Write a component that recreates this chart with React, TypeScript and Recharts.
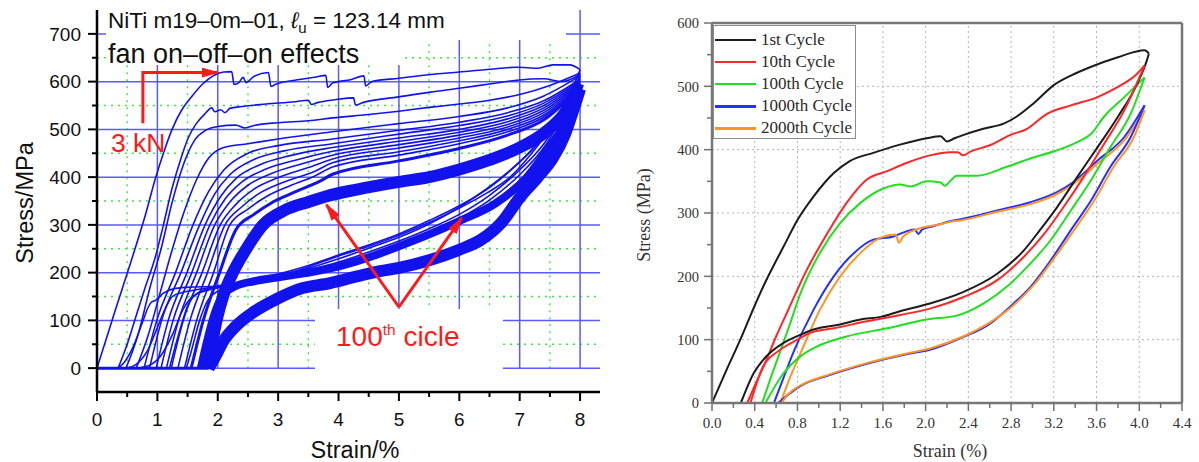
import React from 'react';
import { LineChart, Line, XAxis, YAxis, ReferenceLine } from 'recharts';

type Pair = [number, number];
const pts = (a: Pair[]) => a.map(([x, y]) => ({ x, y }));

const SANS = '"Liberation Sans", Arial, Helvetica, sans-serif';
const SERIF = '"Liberation Serif", "Times New Roman", Times, serif';

// ---------- left chart (NiTi, many cycles) ----------
const leftXMajor = [0, 1, 2, 3, 4, 5, 6, 7, 8];
const leftXMinor = [0.5, 1.5, 2.5, 3.5, 4.5, 5.5, 6.5, 7.5];
const leftYMajor = [0, 100, 200, 300, 400, 500, 600, 700];
const leftYMinor = [50, 150, 250, 350, 450, 550, 650];

const leftBaseline: Pair[] = [[0, 0], [1.85, 0]];

const leftLoad1: Pair[] = [
  [0, 0], [0.15, 60], [0.3, 120], [0.57, 226], [0.8, 320], [0.96, 394], [1.1, 450], [1.24, 499],
  [1.4, 540], [1.57, 569], [1.75, 595], [1.95, 614], [2.1, 620], [2.23, 621], [2.27, 594], [2.35, 598],
  [2.42, 609], [2.47, 598], [2.6, 611], [2.84, 619], [2.88, 590], [2.95, 594], [3.28, 603], [3.6, 609],
  [3.79, 613], [3.82, 588], [3.9, 597], [4.2, 604], [4.42, 612], [4.45, 591], [4.55, 600], [5.0, 607],
  [5.52, 615], [6.0, 620], [6.51, 626], [6.95, 630], [7.3, 628], [7.55, 635], [7.83, 635], [8.0, 625],
];
const leftLoad2: Pair[] = [
  [0.35, 0], [0.5, 50], [0.65, 110], [0.8, 170], [0.96, 230], [1.1, 300], [1.24, 375], [1.38, 435],
  [1.51, 482], [1.65, 513], [1.79, 533], [1.9, 545], [1.95, 537], [2.05, 541], [2.12, 535], [2.2, 544],
  [2.4, 548], [2.8, 553], [3.28, 558], [3.5, 561], [3.55, 552], [3.65, 556], [3.94, 562], [4.25, 566],
  [4.28, 551], [4.4, 556], [5.0, 568], [5.52, 578], [6.0, 586], [6.5, 595], [6.95, 603], [7.4, 606],
  [7.7, 600], [8.0, 615],
];
const leftLoad3: Pair[] = [
  [0.48, 0], [0.68, 70], [0.88, 170], [1.07, 254], [1.24, 345], [1.4, 415], [1.62, 478], [1.8, 498],
  [2.0, 506], [2.3, 509], [2.45, 503], [2.6, 508], [3.0, 514], [3.5, 518], [3.9, 524], [4.5, 531],
  [5.0, 538], [5.5, 546], [6.0, 553], [6.5, 561], [7.0, 573], [7.5, 592], [8.0, 618],
];
const leftLoad4: Pair[] = [
  [0.65, 0], [0.85, 70], [1.05, 160], [1.25, 250], [1.45, 330], [1.65, 395], [1.85, 440], [2.1, 462],
  [2.5, 470], [3.0, 480], [3.9, 495], [5.0, 512], [6.0, 527], [6.8, 545], [7.4, 570], [8.0, 612],
];
const leftLoadD1: Pair[] = [[0.78, 0], [0.99, 100], [1.3, 200], [1.59, 300], [1.85, 370], [2.1, 415], [2.5, 450], [3.0, 466], [3.9, 480], [5.0, 498], [6.0, 515], [6.8, 535], [7.4, 560], [8.0, 605]];
const leftLoadD2: Pair[] = [[0.87, 0], [1.07, 100], [1.39, 200], [1.7, 300], [1.95, 365], [2.2, 405], [2.6, 437], [3.1, 455], [3.9, 470], [5.0, 490], [6.0, 508], [6.8, 528], [7.4, 555], [8.0, 602]];
const leftLoadD3: Pair[] = [[0.98, 0], [1.18, 100], [1.49, 200], [1.79, 300], [2.05, 360], [2.3, 397], [2.7, 426], [3.2, 445], [3.9, 462], [5.0, 482], [6.0, 500], [6.8, 522], [7.4, 550], [8.0, 600]];
const leftLoadD4: Pair[] = [[1.06, 0], [1.26, 100], [1.57, 200], [1.87, 300], [2.12, 354], [2.4, 390], [2.8, 417], [3.3, 436], [3.9, 454], [5.0, 475], [6.0, 494], [6.8, 516], [7.4, 545], [8.0, 598]];
const leftLoadD5: Pair[] = [[1.15, 0], [1.35, 100], [1.65, 200], [1.95, 300], [2.2, 348], [2.5, 383], [2.9, 408], [3.4, 428], [3.9, 446], [5.0, 468], [6.0, 488], [6.8, 510], [7.4, 540], [8.0, 596]];
const leftLoadD6: Pair[] = [[1.23, 0], [1.43, 100], [1.74, 200], [2.04, 300], [2.3, 343], [2.6, 375], [3.0, 399], [3.5, 420], [3.9, 438], [5.0, 461], [6.0, 482], [6.8, 505], [7.4, 535], [8.0, 594]];
const leftLoadD7: Pair[] = [[1.34, 0], [1.54, 100], [1.83, 200], [2.12, 300], [2.4, 338], [2.7, 367], [3.1, 390], [3.6, 412], [3.9, 430], [5.0, 453], [6.0, 476], [6.8, 500], [7.4, 530], [8.0, 592]];
const leftLoadD8: Pair[] = [[1.45, 0], [1.65, 100], [1.93, 200], [2.2, 300], [2.5, 333], [2.8, 359], [3.2, 382], [3.6, 402], [3.9, 421], [5.0, 446], [6.0, 470], [6.8, 495], [7.4, 526], [8.0, 590]];
const leftLoadNear: Pair[] = [[1.56, 0], [1.76, 100], [2.03, 200], [2.3, 290], [2.6, 322], [2.9, 347], [3.3, 370], [3.7, 392], [3.9, 406], [5.0, 434], [6.0, 460], [6.8, 488], [7.4, 520], [8.0, 588]];
const leftLoad100: Pair[] = [
  [1.8, 0], [1.9, 50], [1.98, 100], [2.1, 155], [2.25, 200], [2.45, 245], [2.75, 300], [3.1, 330],
  [3.5, 348], [3.8, 360], [4.3, 374], [5.0, 390], [5.5, 400], [6.0, 416], [6.5, 436], [7.0, 462],
  [7.4, 492], [7.7, 527], [8.0, 585],
];

const leftUnload1: Pair[] = [
  [8.0, 625], [7.85, 580], [7.7, 540], [7.5, 500], [7.2, 450], [6.84, 400], [6.5, 370], [6.0, 335],
  [5.5, 305], [5.0, 278], [4.5, 255], [4.0, 235], [3.5, 212], [3.1, 196], [2.6, 182], [2.26, 174],
  [1.9, 171], [1.6, 170], [1.3, 167], [1.1, 157], [0.97, 142], [0.9, 138], [0.85, 128], [0.75, 95],
  [0.6, 45], [0.45, 12], [0.35, 0],
];
const leftUnload2: Pair[] = [
  [8.0, 615], [7.8, 562], [7.6, 522], [7.3, 472], [7.0, 432], [6.5, 378], [6.0, 340], [5.5, 309],
  [5.0, 281], [4.5, 258], [4.0, 237], [3.5, 215], [3.0, 197], [2.5, 182], [2.2, 176], [1.9, 170],
  [1.6, 163], [1.4, 158], [1.25, 150], [1.15, 130], [1.0, 85], [0.85, 40], [0.65, 8], [0.5, 0],
];
const leftUnload3: Pair[] = [
  [8.0, 610], [7.8, 555], [7.5, 500], [7.2, 456], [6.8, 410], [6.3, 362], [6.0, 337], [5.5, 302],
  [5.0, 274], [4.5, 251], [4.0, 229], [3.5, 209], [3.0, 193], [2.5, 179], [2.2, 173], [1.9, 165],
  [1.7, 158], [1.55, 146], [1.42, 122], [1.25, 70], [1.05, 25], [0.85, 5], [0.65, 0],
];
const leftUnload4: Pair[] = [
  [8.0, 605], [7.7, 530], [7.4, 470], [7.0, 415], [6.5, 362], [6.0, 322], [5.5, 292], [5.0, 266],
  [4.5, 243], [4.0, 222], [3.5, 205], [3.0, 190], [2.5, 178], [2.0, 170], [1.7, 160], [1.5, 130],
  [1.35, 70], [1.2, 0],
];
const leftUnload5: Pair[] = [
  [8.0, 600], [7.7, 525], [7.4, 462], [7.0, 405], [6.5, 352], [6.0, 314], [5.5, 285], [5.0, 259],
  [4.5, 237], [4.0, 217], [3.5, 201], [3.0, 186], [2.5, 174], [2.1, 166], [1.85, 145], [1.7, 100],
  [1.55, 30], [1.48, 0],
];
const leftUnloadMid: Pair[] = [
  [8.0, 595], [7.8, 525], [7.5, 465], [7.12, 400], [6.6, 345], [6.0, 308], [5.5, 280], [5.0, 255],
  [4.5, 232], [3.9, 210], [3.4, 198], [3.0, 190], [2.6, 182], [2.3, 172], [2.1, 155], [1.95, 115],
  [1.82, 55], [1.72, 0],
];
const leftUnloadLow: Pair[] = [
  [8.0, 585], [7.9, 545], [7.75, 490], [7.55, 440], [7.3, 400], [7.0, 357], [6.7, 305], [6.35, 268],
  [6.0, 248], [5.5, 226], [5.0, 210], [4.69, 203], [4.4, 195], [3.86, 178], [3.36, 166], [2.98, 145],
  [2.6, 118], [2.3, 88], [2.1, 58], [1.95, 22], [1.85, 0],
];

const leftThinLoads = [leftLoad1, leftLoad2, leftLoad3, leftLoad4, leftLoadD1, leftLoadD2, leftLoadD3, leftLoadD4, leftLoadD5, leftLoadD6, leftLoadD7, leftLoadD8];
const leftThinUnloads = [leftUnload1, leftUnload2, leftUnload3, leftUnload4, leftUnload5];

// annotation arrows (strain, stress)
const arrow3kN: Pair[] = [[0.76, 516], [0.76, 619], [2.0, 619]];
const arrow100Origin: Pair = [5.0, 128];
const arrow100Tips: Pair[] = [[3.8, 342], [6.04, 314]];

// ---------- right chart (5 cycles) ----------
const rightXMajor = [0, 0.4, 0.8, 1.2, 1.6, 2.0, 2.4, 2.8, 3.2, 3.6, 4.0, 4.4];
const rightXMinor = [0.2, 0.6, 1.0, 1.4, 1.8, 2.2, 2.6, 3.0, 3.4, 3.8, 4.2];
const rightYMajor = [0, 100, 200, 300, 400, 500, 600];
const rightYMinor = [50, 150, 250, 350, 450, 550];

const rc1Load: Pair[] = [
  [0, 0], [0.13, 50], [0.265, 100], [0.37, 142], [0.48, 184], [0.58, 218], [0.67, 247], [0.8, 289],
  [0.95, 326], [1.05, 347], [1.14, 363], [1.29, 382], [1.51, 395], [1.76, 408], [2.01, 418], [2.14, 421],
  [2.2, 413], [2.27, 418], [2.35, 423], [2.54, 433], [2.73, 441], [2.85, 452], [3.01, 473], [3.2, 502],
  [3.36, 517], [3.55, 531], [3.8, 546], [4.05, 557], [4.09, 552],
];
const rc1Unload: Pair[] = [
  [4.09, 552], [4.08, 546], [3.98, 504], [3.8, 452], [3.61, 404], [3.42, 357], [3.23, 309], [3.07, 273],
  [2.92, 241], [2.67, 204], [2.35, 175], [2.04, 157], [1.76, 145], [1.58, 136], [1.39, 132], [1.2, 124],
  [0.95, 116], [0.83, 108], [0.67, 95], [0.51, 74], [0.39, 47], [0.27, 0],
];
const rc10Load: Pair[] = [
  [0.33, 0], [0.42, 35], [0.51, 68], [0.6, 105], [0.7, 142], [0.89, 211], [1.08, 268], [1.26, 316],
  [1.45, 353], [1.64, 366], [1.82, 379], [2.04, 391], [2.23, 396], [2.3, 396], [2.35, 391], [2.42, 397],
  [2.6, 407], [2.79, 423], [2.95, 433], [3.14, 457], [3.36, 470], [3.61, 483], [3.8, 499], [3.98, 520],
  [4.05, 533],
];
const rc10Unload: Pair[] = [
  [4.05, 533], [3.86, 462], [3.67, 409], [3.48, 357], [3.29, 309], [3.11, 267], [2.92, 231], [2.67, 194],
  [2.35, 167], [2.04, 149], [1.76, 139], [1.45, 129], [1.14, 118], [0.92, 111], [0.8, 100], [0.64, 84],
  [0.48, 58], [0.36, 0],
];
const rc100Load: Pair[] = [
  [0.47, 0], [0.54, 35], [0.61, 68], [0.72, 120], [0.83, 174], [1.01, 237], [1.2, 284], [1.39, 316],
  [1.61, 339], [1.76, 345], [1.86, 342], [2.01, 350], [2.14, 348], [2.18, 343], [2.24, 352], [2.29, 359],
  [2.48, 359], [2.76, 373], [2.98, 386], [3.23, 399], [3.42, 412], [3.55, 425], [3.67, 452], [3.86, 483],
  [4.05, 514],
];
const rc100Unload: Pair[] = [
  [4.05, 514], [3.92, 457], [3.73, 404], [3.55, 352], [3.36, 304], [3.17, 257], [2.98, 220], [2.79, 188],
  [2.54, 157], [2.29, 138], [2.01, 132], [1.64, 118], [1.26, 105], [0.98, 89], [0.83, 74], [0.67, 47],
  [0.5, 0],
];
const rc1000Load: Pair[] = [
  [0.58, 0], [0.67, 40], [0.76, 79], [0.95, 147], [1.14, 200], [1.33, 237], [1.51, 258], [1.7, 263],
  [1.82, 271], [1.9, 274], [1.93, 267], [1.97, 274], [2.07, 279], [2.23, 287], [2.35, 291], [2.67, 304],
  [2.98, 317], [3.23, 333], [3.36, 346], [3.61, 383], [3.86, 420], [4.05, 470],
];
const rc1000Unload: Pair[] = [
  [4.05, 470], [3.92, 420], [3.73, 373], [3.55, 320], [3.36, 273], [3.17, 225], [2.98, 183], [2.79, 152],
  [2.6, 125], [2.35, 104], [2.04, 84], [1.82, 77], [1.45, 62], [1.08, 43], [0.83, 27], [0.72, 14],
  [0.62, 0],
];
const rc2000Load: Pair[] = [
  [0.64, 0], [0.73, 40], [0.83, 79], [1.01, 147], [1.2, 200], [1.39, 237], [1.58, 261], [1.72, 266],
  [1.75, 253], [1.79, 263], [1.95, 276], [2.1, 281], [2.23, 286], [2.35, 289], [2.67, 302], [2.98, 314],
  [3.23, 330], [3.36, 343], [3.61, 378], [3.86, 415], [4.05, 462],
];
const rc2000Unload: Pair[] = [
  [4.05, 462], [3.95, 420], [3.76, 373], [3.58, 320], [3.39, 273], [3.2, 228], [3.01, 186], [2.82, 154],
  [2.6, 127], [2.35, 105], [2.04, 86], [1.82, 78], [1.45, 63], [1.08, 44], [0.83, 28], [0.72, 15],
  [0.65, 0],
];

const rightCycles = [
  { name: '1st Cycle', color: '#1c1c1c', load: rc1Load, unload: rc1Unload },
  { name: '10th Cycle', color: '#ff2626', load: rc10Load, unload: rc10Unload },
  { name: '100th Cycle', color: '#1fe01f', load: rc100Load, unload: rc100Unload },
  { name: '1000th Cycle', color: '#2430ff', load: rc1000Load, unload: rc1000Unload },
  { name: '2000th Cycle', color: '#ff9424', load: rc2000Load, unload: rc2000Unload },
];

const BLUE = '#1212ee';
const RED = '#ff1a1a';

function LeftXTick(props: any) {
  const { x, y, payload } = props;
  const v = payload.value;
  const major = leftXMajor.includes(v);
  return (
    <g>
      <line x1={x} x2={x} y1={y} y2={y + (major ? 9 : 5)} stroke="#000" strokeWidth={2} />
      {major && (
        <text x={x} y={y + 27} dy="0.36em" textAnchor="middle" fontSize={19} fontFamily={SANS} fill="#111">
          {v}
        </text>
      )}
    </g>
  );
}

function LeftYTick(props: any) {
  const { x, y, payload } = props;
  const v = payload.value;
  const major = leftYMajor.includes(v);
  return (
    <g>
      <line x1={x} x2={x - (major ? 9 : 5)} y1={y} y2={y} stroke="#000" strokeWidth={2} />
      {major && (
        <text x={x - 16} y={y} dy="0.36em" textAnchor="end" fontSize={19} fontFamily={SANS} fill="#111">
          {v}
        </text>
      )}
    </g>
  );
}

function RightXTick(props: any) {
  const { x, y, payload } = props;
  const v = payload.value;
  const major = rightXMajor.includes(v);
  return (
    <g>
      <line x1={x} x2={x} y1={y} y2={y + (major ? 8 : 5)} stroke="#707070" strokeWidth={1.5} />
      {major && (
        <text x={x} y={y + 20} dy="0.36em" textAnchor="middle" fontSize={15} fontFamily={SERIF} fill="#333">
          {v.toFixed(1)}
        </text>
      )}
    </g>
  );
}

function RightYTick(props: any) {
  const { x, y, payload } = props;
  const v = payload.value;
  const major = rightYMajor.includes(v);
  return (
    <g>
      <line x1={x} x2={x - (major ? 8 : 5)} y1={y} y2={y} stroke="#707070" strokeWidth={1.5} />
      {major && (
        <text x={x - 13} y={y} dy="0.36em" textAnchor="end" fontSize={14.5} fontFamily={SERIF} fill="#333">
          {v}
        </text>
      )}
    </g>
  );
}

const abs = (s: React.CSSProperties): React.CSSProperties => ({ position: 'absolute', whiteSpace: 'nowrap', ...s });
const GRID_Z = -50;

export default function App() {
  const leftXTicks = [...leftXMajor, ...leftXMinor].sort((a, b) => a - b);
  const leftYTicks = [...leftYMajor, ...leftYMinor].sort((a, b) => a - b);
  const rightXTicks = [...rightXMajor, ...rightXMinor].sort((a, b) => a - b);
  const rightYTicks = [...rightYMajor, ...rightYMinor].sort((a, b) => a - b);

  return (
    <div style={{ position: 'absolute', left: 0, top: 0, width: 1199, height: 462, background: '#fff', overflow: 'hidden' }}>
      {/* ---------------- left chart ---------------- */}
      <div style={{ position: 'absolute', left: 0, top: 0 }}>
        <LineChart width={600} height={462} margin={{ top: 10, right: 0, bottom: 0, left: 0 }}>
          <defs>
            <marker id="redHead" viewBox="0 0 18 10" refX="16" refY="5" markerWidth="18" markerHeight="10" markerUnits="userSpaceOnUse" orient="auto">
              <path d="M0,0 L18,5 L0,10 z" fill={RED} />
            </marker>
          </defs>
          <XAxis
            type="number"
            dataKey="x"
            domain={[0, 8.33]}
            ticks={leftXTicks}
            interval={0}
            allowDataOverflow
            height={70}
            tickLine={false}
            tickSize={0}
            tickMargin={0}
            tick={<LeftXTick />}
            axisLine={{ stroke: '#000', strokeWidth: 2.5 }}
          />
          <YAxis
            type="number"
            dataKey="y"
            domain={[-50, 750]}
            ticks={leftYTicks}
            interval={0}
            allowDataOverflow
            width={97}
            tickLine={false}
            tickSize={0}
            tickMargin={0}
            tick={<LeftYTick />}
            axisLine={{ stroke: '#000', strokeWidth: 2.5 }}
          />
          {leftYMinor.map((v) => (
            <ReferenceLine key={`gy${v}`} zIndex={GRID_Z} y={v} stroke="#3ee83e" strokeWidth={1.4} strokeDasharray="2 5" />
          ))}
          {leftXMinor.map((v) => (
            <ReferenceLine key={`gx${v}`} zIndex={GRID_Z} segment={[{ x: v, y: 0 }, { x: v, y: 750 }]} stroke="#3ee83e" strokeWidth={1.4} strokeDasharray="2 5" />
          ))}
          {leftYMajor.map((v) => (
            <ReferenceLine key={`by${v}`} zIndex={GRID_Z} y={v} stroke="#5a5aff" strokeWidth={1.5} />
          ))}
          {leftXMajor.filter((v) => v > 0).map((v) => (
            <ReferenceLine key={`bx${v}`} zIndex={GRID_Z} segment={[{ x: v, y: 0 }, { x: v, y: 750 }]} stroke="#5a5aff" strokeWidth={1.5} />
          ))}

          <Line data={pts(leftBaseline)} dataKey="y" type="linear" stroke={BLUE} strokeWidth={3} dot={false} isAnimationActive={false} />
          {leftThinLoads.map((d, i) => (
            <Line key={`ll${i}`} data={pts(d)} dataKey="y" type="monotoneX" stroke={BLUE} strokeWidth={1.6} dot={false} isAnimationActive={false} />
          ))}
          <Line data={pts(leftLoadNear)} dataKey="y" type="monotoneX" stroke={BLUE} strokeWidth={3} dot={false} isAnimationActive={false} />
          <Line data={pts(leftLoad100)} dataKey="y" type="monotoneX" stroke={BLUE} strokeWidth={12} dot={false} isAnimationActive={false} />
          {leftThinUnloads.map((d, i) => (
            <Line key={`lu${i}`} data={pts(d)} dataKey="y" type="monotoneX" stroke={BLUE} strokeWidth={1.6} dot={false} isAnimationActive={false} />
          ))}
          <Line data={pts(leftUnloadMid)} dataKey="y" type="monotoneX" stroke={BLUE} strokeWidth={8} dot={false} isAnimationActive={false} />
          <Line data={pts(leftUnloadLow)} dataKey="y" type="monotoneX" stroke={BLUE} strokeWidth={12} dot={false} isAnimationActive={false} />

          <ReferenceLine
            segment={[{ x: arrow3kN[0][0], y: arrow3kN[0][1] }, { x: arrow3kN[1][0], y: arrow3kN[1][1] }]}
            stroke={RED}
            strokeWidth={3}
            strokeLinecap="square"
          />
          <ReferenceLine
            segment={[{ x: arrow3kN[1][0], y: arrow3kN[1][1] }, { x: arrow3kN[2][0], y: arrow3kN[2][1] }]}
            stroke={RED}
            strokeWidth={3}
            markerEnd="url(#redHead)"
          />
          {arrow100Tips.map((t, i) => (
            <ReferenceLine
              key={`a${i}`}
              segment={[{ x: arrow100Origin[0], y: arrow100Origin[1] }, { x: t[0], y: t[1] }]}
              stroke={RED}
              strokeWidth={3}
              markerEnd="url(#redHead)"
            />
          ))}
        </LineChart>
      </div>

      {/* left annotations */}
      <div style={abs({ left: 106, top: 0, width: 460, height: 40, background: '#fff' })} />
      <div style={abs({ left: 106, top: 40, width: 296, height: 25, background: '#fff' })} />
      <div style={abs({ left: 108, top: 10, fontFamily: SANS, fontSize: 22.5, lineHeight: '22.5px', color: '#111' })}>
        NiTi m19–0m–01, <i>ℓ</i>
        <span style={{ fontSize: 15, position: 'relative', top: 5 }}>u</span> = 123.14 mm
      </div>
      <div style={abs({ left: 108, top: 41, fontFamily: SANS, fontSize: 27, lineHeight: '27px', color: '#111' })}>
        fan on–off–on effects
      </div>
      <div style={abs({ left: 111, top: 130, fontFamily: SANS, fontSize: 26.5, lineHeight: '26.5px', color: RED })}>3 kN</div>
      <div style={abs({ left: 315, top: 309, width: 188, height: 62, background: '#fff' })} />
      <div style={abs({ left: 336, top: 323, fontFamily: SANS, fontSize: 28, lineHeight: '28px', color: RED })}>
        100<span style={{ fontSize: 15.5, position: 'relative', top: -11 }}>th</span> cicle
      </div>
      <div style={abs({ left: 25, top: 203, transform: 'translate(-50%, -50%) rotate(-90deg)', fontFamily: SANS, fontSize: 23.5, color: '#111' })}>
        Stress/MPa
      </div>
      <div style={abs({ left: 355, top: 450, transform: 'translate(-50%, -50%)', fontFamily: SANS, fontSize: 23.5, color: '#111' })}>
        Strain/%
      </div>

      {/* ---------------- right chart ---------------- */}
      <div style={{ position: 'absolute', left: 620, top: 0 }}>
        <LineChart width={579} height={462} margin={{ top: 23, right: 17, bottom: 0, left: 0 }}>
          <XAxis
            type="number"
            dataKey="x"
            domain={[0, 4.4]}
            ticks={rightXTicks}
            interval={0}
            allowDataOverflow
            height={59}
            tickLine={false}
            tickSize={0}
            tickMargin={0}
            tick={<RightXTick />}
            axisLine={{ stroke: '#777', strokeWidth: 2.5 }}
          />
          <YAxis
            type="number"
            dataKey="y"
            domain={[0, 600]}
            ticks={rightYTicks}
            interval={0}
            allowDataOverflow
            width={92}
            tickLine={false}
            tickSize={0}
            tickMargin={0}
            tick={<RightYTick />}
            axisLine={{ stroke: '#777', strokeWidth: 2.5 }}
          />
          {rightYMajor.filter((v) => v > 0 && v < 600).map((v) => (
            <ReferenceLine key={`ry${v}`} zIndex={GRID_Z} y={v} stroke="#b4b4b4" strokeWidth={1} strokeDasharray="2 3" />
          ))}
          {rightXMajor.filter((v) => v > 0 && v < 4.4).map((v) => (
            <ReferenceLine key={`rx${v}`} zIndex={GRID_Z} x={v} stroke="#b4b4b4" strokeWidth={1} strokeDasharray="2 3" />
          ))}
          <ReferenceLine y={600} stroke="#777" strokeWidth={2.5} />
          <ReferenceLine x={4.4} stroke="#777" strokeWidth={2.5} />
          {rightCycles.map((c) => (
            <Line key={`${c.name}-l`} data={pts(c.load)} dataKey="y" type="monotoneX" stroke={c.color} strokeWidth={2} dot={false} isAnimationActive={false} />
          ))}
          {rightCycles.map((c) => (
            <Line key={`${c.name}-u`} data={pts(c.unload)} dataKey="y" type="monotoneX" stroke={c.color} strokeWidth={2} dot={false} isAnimationActive={false} />
          ))}
        </LineChart>
      </div>

      {/* right legend */}
      <div style={abs({ left: 713, top: 25, width: 143, height: 114, background: '#fff', border: '1.5px solid #8c8c8c', boxSizing: 'border-box' })}>
        {rightCycles.map((c, i) => (
          <div key={c.name} style={abs({ left: 1, top: 3 + i * 22.1, height: 22, display: 'flex', alignItems: 'center' })}>
            <div style={{ width: 41, height: 2.5, background: c.color }} />
            <span style={{ marginLeft: 5, fontFamily: SERIF, fontSize: 17, color: '#2a2a2a' }}>{c.name}</span>
          </div>
        ))}
      </div>
      <div style={abs({ left: 644, top: 215, transform: 'translate(-50%, -50%) rotate(-90deg)', fontFamily: SERIF, fontSize: 18, color: '#333' })}>
        Stress (MPa)
      </div>
      <div style={abs({ left: 950, top: 451, transform: 'translate(-50%, -50%)', fontFamily: SERIF, fontSize: 18, color: '#333' })}>
        Strain (%)
      </div>
    </div>
  );
}
